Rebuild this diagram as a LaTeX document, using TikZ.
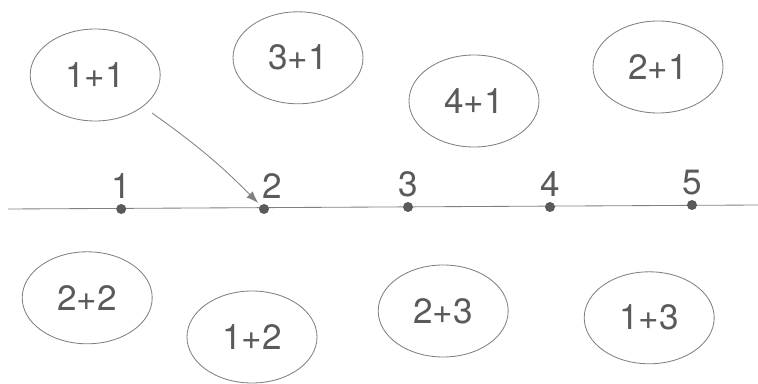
\documentclass[tikz,border=0pt]{standalone}
\usepackage{fontspec}
\setmainfont{TeX Gyre Heros}
\usepackage{xcolor}
\usetikzlibrary{arrows.meta, positioning, shapes.geometric}

\definecolor{inkgray}{HTML}{5A5A5A}
\definecolor{linegray}{HTML}{808080}

\begin{document}
\begin{tikzpicture}[
    sum/.style={ellipse, draw=linegray, line width=0.6pt, text=inkgray, inner sep=0pt,
      minimum width=3.25cm, minimum height=2.3cm, font=\fontsize{25}{30}\selectfont},
    dot/.style={circle, fill=inkgray, inner sep=0pt, minimum size=0.25cm},
    num/.style={text=inkgray, font=\fontsize{25}{30}\selectfont}
  ]
      \useasboundingbox (0,0) rectangle (18.95,9.575);

      % sums above the line
      \node[sum] (s11) at (2.38,7.70) {1+1};
      \node[sum] (s31) at (7.45,8.13) {3+1};
      \node[sum] (s41) at (11.85,7.05) {4+1};
      \node[sum] (s21) at (16.45,7.90) {2+1};

      % sums below the line
      \node[sum] (s22) at (2.18,2.13) {2+2};
      \node[sum] (s12) at (6.30,1.15) {1+2};
      \node[sum] (s23) at (11.08,1.80) {2+3};
      \node[sum] (s13) at (16.23,1.63) {1+3};

      % number line
      \coordinate (left) at (0.2,4.35);
      \coordinate (right) at (18.95,4.45);
      \draw[linegray, line width=0.6pt] (left) -- (right);

      \node[dot, label={[num, label distance=0cm]above:1}] (d1) at (3.03,4.35) {};
      \node[dot, label={[num, label distance=0cm, xshift=0.2cm]above:2}] (d2) at (6.60,4.35) {};
      \node[dot, label={[num, label distance=0cm]above:3}] (d3) at (10.20,4.40) {};
      \node[dot, label={[num, label distance=0cm]above:4}] (d4) at (13.75,4.40) {};
      \node[dot, label={[num, label distance=0cm]above:5}] (d5) at (17.30,4.45) {};

      \coordinate (from11) at (3.80,6.75);
      \draw[-{Latex[length=0.3cm, width=0.22cm]}, linegray, line width=0.6pt, shorten >=0.08cm]
        (from11) to[bend left=5] (d2);
    \end{tikzpicture}
\end{document}
